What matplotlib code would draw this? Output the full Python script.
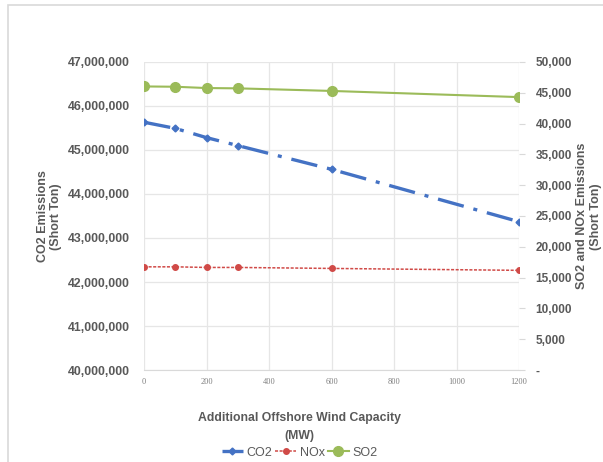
import matplotlib
matplotlib.use('Agg')
import matplotlib.pyplot as plt
from matplotlib.patches import Rectangle
from matplotlib.ticker import FuncFormatter

# capacity (MW) and emissions (short ton)
capacity = [0, 100, 200, 300, 600, 1200]
co2 = [45630000, 45490000, 45280000, 45100000, 44560000, 43370000]
nox = [16750, 16750, 16650, 16650, 16490, 16180]
so2 = [46020, 45970, 45760, 45710, 45290, 44290]

x_ticks = [0, 200, 400, 600, 800, 1000, 1200]
left_ticks = [40e6, 41e6, 42e6, 43e6, 44e6, 45e6, 46e6, 47e6]
right_ticks = list(range(0, 50001, 5000))

TXT = '#595959'
plt.rcParams['font.family'] = ['Liberation Sans', 'DejaVu Sans']

fig = plt.figure(figsize=(6.03, 4.62), dpi=100)
fig.patches.append(Rectangle((0.014, -0.01), 1.0, 1.0, transform=fig.transFigure,
                             fill=False, edgecolor='#d9d9d9', linewidth=1.2))

ax = fig.add_axes([0.2388, 0.199, 0.622, 0.667])
ax2 = ax.twinx()

ax.plot(capacity, co2, color='#4472C4', linewidth=2.4, linestyle=(0, (8, 3, 1.2, 3)),
        marker='D', markersize=3.5, label='CO2', zorder=3)
ax2.plot(capacity, nox, color='#D04A47', linewidth=1.1, linestyle=(0, (2, 1)),
         marker='o', markersize=4, label='NOx', zorder=3)
ax2.plot(capacity, so2, color='#9BBB59', linewidth=1.5, marker='o', markersize=7,
         label='SO2', zorder=3)

ax.set_xlim(0, 1200)
ax.set_ylim(40e6, 47e6)
ax2.set_ylim(0, 50000)
ax.set_xticks(x_ticks)
ax.set_yticks(left_ticks)
ax2.set_yticks(right_ticks)
ax.yaxis.set_major_formatter(FuncFormatter(lambda v, p: '{:,.0f}'.format(v)))
ax2.yaxis.set_major_formatter(FuncFormatter(lambda v, p: '-' if v == 0 else '{:,.0f}'.format(v)))

ax.grid(True, color='#e6e6e6', linewidth=0.9)
ax.set_axisbelow(True)
for a in (ax, ax2):
    for s in a.spines.values():
        s.set_visible(False)
ax.spines['bottom'].set_visible(True)
ax.spines['bottom'].set_color('#d9d9d9')

ax.tick_params(axis='y', length=0, pad=10, labelsize=8.8, labelcolor=TXT)
for t in ax.get_yticklabels():
    t.set_fontweight('bold')
ax.tick_params(axis='x', length=0, pad=6, labelsize=6, labelcolor='#7f7f7f')
for t in ax.get_xticklabels():
    t.set_family(['Liberation Serif', 'DejaVu Serif'])
ax2.tick_params(axis='y', length=4, color='#d9d9d9', pad=8, labelsize=8.5, labelcolor=TXT)
for t in ax2.get_yticklabels():
    t.set_fontweight('bold')

fig.text(0.082, 0.532, 'CO2 Emissions\n(Short Ton)', rotation=90, ha='center', va='center',
         fontsize=9, fontweight='bold', color=TXT, linespacing=1.15)
fig.text(0.977, 0.532, 'SO2 and NOx Emissions\n(Short Ton)', rotation=90, ha='center',
         va='center', fontsize=9, fontweight='bold', color=TXT, linespacing=1.15)
fig.text(0.497, 0.076, 'Additional Offshore Wind Capacity\n(MW)', ha='center', va='center',
         fontsize=8.8, fontweight='bold', color=TXT, linespacing=1.7)

h1, l1 = ax.get_legend_handles_labels()
h2, l2 = ax2.get_legend_handles_labels()
fig.legend(h1 + h2, l1 + l2, loc='center', bbox_to_anchor=(0.497, 0.02), ncol=3,
           frameon=False, fontsize=9, labelcolor=TXT, handlelength=1.7,
           handletextpad=0.3, columnspacing=0.2, borderaxespad=0)

fig.savefig('out.png', dpi=100)
